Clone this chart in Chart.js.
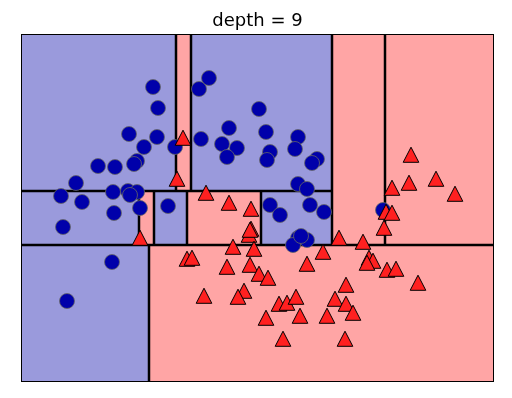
<!DOCTYPE html>
<html>
<head>
<meta charset="utf-8">
<script src="https://cdn.jsdelivr.net/npm/chart.js@4.4.0/dist/chart.umd.min.js"></script>
<style>
html,body{margin:0;padding:0;background:#fff;}
#wrap{width:512px;height:398px;position:relative;}
</style>
</head>
<body>
<div id="wrap"><canvas id="c" width="512" height="398"></canvas></div>
<script>
// ---- data ----
const titleText = "depth = 9";
const xRange = [0, 4.73];
const yRange = [0, 3.48];

const class0X = [1.32,1.37,1.08,1.36,1.23,1.54,0.77,0.94,1.16,1.13,0.55,0.40,0.92,1.07,1.16,1.09,0.61,0.93,1.19,0.42,1.47,0.91,0.46,1.78,1.88,1.80,2.01,2.08,2.16,2.06,2.38,2.45,2.49,2.46,2.77,2.74,2.96,2.91,2.77,2.86,2.49,2.59,2.89,3.03,2.77,2.86,2.72,3.62,2.80];
const class0Y = [2.95,2.74,2.48,2.45,2.35,2.35,2.16,2.15,2.21,2.18,1.99,1.86,1.90,1.91,1.90,1.87,1.80,1.69,1.74,1.55,1.76,1.20,0.81,2.93,3.04,2.43,2.38,2.54,2.34,2.25,2.73,2.50,2.30,2.22,2.45,2.33,2.23,2.19,1.98,1.93,1.77,1.67,1.77,1.70,1.44,1.42,1.37,1.72,1.46];

const class1X = [1.62,1.56,1.19,1.85,2.08,2.30,2.30,2.28,2.12,2.33,1.66,1.71,2.06,2.29,2.38,2.47,1.83,2.23,2.17,2.58,2.66,2.75,2.79,2.45,2.62,2.86,3.02,3.18,3.42,3.48,3.52,3.46,3.66,3.75,3.97,3.25,3.14,3.25,3.32,3.06,3.24,3.63,3.65,3.71,3.71,3.88,3.90,4.15,4.34,2.29];
const class1Y = [2.44,2.03,1.44,1.89,1.79,1.73,1.53,1.47,1.35,1.33,1.23,1.24,1.15,1.17,1.08,1.04,0.86,0.91,0.85,0.78,0.79,0.85,0.66,0.64,0.43,1.18,1.30,1.44,1.40,1.24,1.21,1.19,1.12,1.13,0.99,0.97,0.83,0.78,0.69,0.66,0.43,1.54,1.70,1.69,1.94,1.99,2.27,2.03,1.88,1.52];

// leaf regions of the tree: x0, x1, y0, y1, predicted class
const leafX0 = [0,    1.28, 3.64, 3.11, 0,    1.55, 1.70, 0,    1.18, 1.33, 1.66, 2.40];
const leafX1 = [1.28, 4.73, 4.73, 3.64, 1.55, 1.70, 3.11, 1.18, 1.33, 1.66, 2.40, 3.11];
const leafY0 = [0,    0,    1.37, 1.37, 1.91, 1.91, 1.91, 1.37, 1.37, 1.37, 1.37, 1.37];
const leafY1 = [1.37, 1.37, 3.48, 3.48, 3.48, 3.48, 3.48, 1.91, 1.91, 1.91, 1.91, 1.91];
const leafClass = [0, 1, 1, 1, 0, 1, 0, 0, 1, 0, 1, 0];

// split lines: vertical (x, y0, y1) and horizontal (y, x0, x1)
const vSplitX  = [1.28, 3.64, 3.11, 1.55, 1.70, 1.18, 1.33, 1.66, 2.40];
const vSplitY0 = [0,    1.37, 1.37, 1.91, 1.91, 1.37, 1.37, 1.37, 1.37];
const vSplitY1 = [1.37, 3.48, 3.48, 3.48, 3.48, 1.91, 1.91, 1.91, 1.91];
const hSplitY  = [1.37, 1.91];
const hSplitX0 = [0, 0];
const hSplitX1 = [4.73, 3.11];

// ---- styles ----
const regionColors = ['#9a9adc', '#ffa5a5'];
const markerBlue = '#0000aa';
const markerRed = '#ff2020';

function triangleImage() {
  const cv = document.createElement('canvas');
  cv.width = 18; cv.height = 18;
  const g = cv.getContext('2d');
  g.beginPath();
  g.moveTo(9, 1.2);
  g.lineTo(1.2, 16.3);
  g.lineTo(16.8, 16.3);
  g.closePath();
  g.fillStyle = markerRed;
  g.fill();
  g.lineWidth = 1;
  g.strokeStyle = '#000';
  g.lineJoin = 'miter';
  g.stroke();
  return cv;
}

const partitionPlugin = {
  id: 'partition',
  beforeDatasetsDraw(chart) {
    const {ctx, scales:{x, y}} = chart;
    ctx.save();
    for (let i = 0; i < leafX0.length; i++) {
      const px0 = x.getPixelForValue(leafX0[i]), px1 = x.getPixelForValue(leafX1[i]);
      const py0 = y.getPixelForValue(leafY0[i]), py1 = y.getPixelForValue(leafY1[i]);
      ctx.fillStyle = regionColors[leafClass[i]];
      ctx.fillRect(px0, py1, px1 - px0, py0 - py1);
    }
    ctx.strokeStyle = '#000';
    ctx.lineWidth = 2.5;
    for (let i = 0; i < vSplitX.length; i++) {
      const px = x.getPixelForValue(vSplitX[i]);
      ctx.beginPath();
      ctx.moveTo(px, y.getPixelForValue(vSplitY0[i]));
      ctx.lineTo(px, y.getPixelForValue(vSplitY1[i]));
      ctx.stroke();
    }
    for (let i = 0; i < hSplitY.length; i++) {
      const py = y.getPixelForValue(hSplitY[i]);
      ctx.beginPath();
      ctx.moveTo(x.getPixelForValue(hSplitX0[i]), py);
      ctx.lineTo(x.getPixelForValue(hSplitX1[i]), py);
      ctx.stroke();
    }
    ctx.restore();
  },
  afterDraw(chart) {
    const {ctx, chartArea:a} = chart;
    ctx.save();
    ctx.strokeStyle = '#000';
    ctx.lineWidth = 1;
    ctx.strokeRect(a.left + 0.5, a.top + 0.5, a.right - a.left - 1, a.bottom - a.top - 1);
    ctx.restore();
  }
};

const toPts = (xs, ys) => xs.map((v, i) => ({x: v, y: ys[i]}));

new Chart(document.getElementById('c'), {
  type: 'scatter',
  data: {
    datasets: [
      {
        label: 'class 1',
        data: toPts(class1X, class1Y),
        pointStyle: triangleImage(),
        pointRadius: 9,
        backgroundColor: markerRed,
        borderColor: '#000'
      },
      {
        label: 'class 0',
        data: toPts(class0X, class0Y),
        pointStyle: 'circle',
        pointRadius: 7.5,
        borderWidth: 0.8,
        backgroundColor: markerBlue,
        borderColor: '#666'
      }
    ]
  },
  options: {
    responsive: false,
    animation: false,
    events: [],
    layout: {padding: {left: 21, right: 18, top: 0, bottom: 16}},
    scales: {
      x: {type: 'linear', min: xRange[0], max: xRange[1], display: false},
      y: {type: 'linear', min: yRange[0], max: yRange[1], display: false}
    },
    plugins: {
      legend: {display: false},
      tooltip: {enabled: false},
      title: {
        display: true,
        text: titleText,
        color: '#000',
        font: {family: 'DejaVu Sans', size: 18, weight: 'normal', lineHeight: 1.2},
        padding: {top: 11, bottom: 1.4}
      }
    }
  },
  plugins: [partitionPlugin]
});
</script>
</body>
</html>
